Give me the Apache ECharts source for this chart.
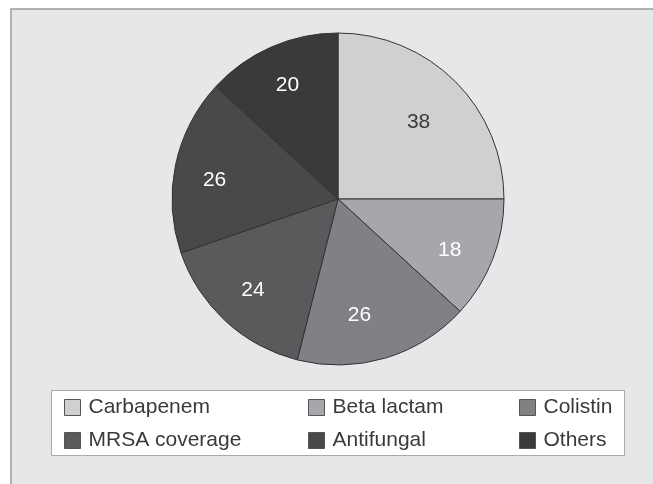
<!DOCTYPE html>
<html>
<head>
<meta charset="utf-8">
<script src="https://cdn.jsdelivr.net/npm/echarts@6/dist/echarts.min.js"></script>
<style>
  html, body { margin: 0; padding: 0; background: #ffffff; }
  #chart { width: 653px; height: 484px; }
</style>
</head>
<body>
<div id="chart"></div>
<script>
// Antibiotic coverage categories and counts
const categories = ['Carbapenem', 'Beta lactam', 'Colistin', 'MRSA coverage', 'Antifungal', 'Others'];
const values = [38, 18, 26, 24, 26, 20];
const sliceColors = ['#cfd0d2', '#a6a7aa', '#808184', '#5a5a5c', '#48494b', '#3a3a3a'];
const labelColors = ['#3a3a3a', '#ffffff', '#ffffff', '#ffffff', '#ffffff', '#ffffff'];
// small per-label nudges (px) away from the mid-angle position
const labelNudges = [[-5, 9], [-1, 7], [-13, 0], [-3, 2], [-5, 6], [-2, -3]];

// legend columns (two rows each)
const legendColumns = [
  ['Carbapenem', 'MRSA coverage'],
  ['Beta lactam', 'Antifungal'],
  ['Colistin', 'Others']
];
const legendLefts = [64, 308, 519];

const FONT = '"Liberation Sans", Arial, sans-serif';
const CENTER = [338, 199];
const R = 166;

const colorOf = name => sliceColors[categories.indexOf(name)];

const sliceData = categories.map((name, i) => ({
  name: name,
  value: values[i],
  itemStyle: { color: sliceColors[i] }
}));

const labelData = categories.map((name, i) => ({
  name: name,
  value: values[i],
  label: { color: labelColors[i], offset: labelNudges[i] }
}));

const legends = legendColumns.map((col, k) => ({
  orient: 'vertical',
  left: legendLefts[k],
  top: 397,
  padding: 0,
  itemGap: 12,
  itemWidth: 16,
  itemHeight: 16,
  icon: 'rect',
  selectedMode: false,
  textStyle: {
    fontFamily: FONT,
    fontSize: 21,
    lineHeight: 21,
    color: '#3a3a3a',
    padding: [0, 0, 0, 3]
  },
  data: col.map(name => ({
    name: name,
    itemStyle: { color: colorOf(name), borderColor: '#555557', borderWidth: 1 }
  }))
}));

const chart = echarts.init(document.getElementById('chart'), null, { renderer: 'canvas' });
chart.setOption({
  animation: false,
  backgroundColor: '#ffffff',
  graphic: [
    {
      type: 'rect',
      z: -10,
      shape: { x: 11, y: 9, width: 700, height: 600 },
      style: { fill: '#e6e7e9', stroke: '#9c9c9e', lineWidth: 1.5 }
    },
    {
      type: 'rect',
      z: -5,
      shape: { x: 51.5, y: 390.5, width: 573, height: 65 },
      style: { fill: '#ffffff', stroke: '#a9a9ab', lineWidth: 1 }
    }
  ],
  legend: legends,
  series: [
    {
      type: 'pie',
      center: CENTER,
      radius: [0, R],
      startAngle: 90,
      clockwise: true,
      silent: true,
      label: { show: false },
      labelLine: { show: false },
      itemStyle: { borderColor: '#333335', borderWidth: 1 },
      data: sliceData
    },
    {
      // transparent ring used only to place the value labels
      type: 'pie',
      center: CENTER,
      radius: [70, R],
      startAngle: 90,
      clockwise: true,
      silent: true,
      itemStyle: { color: 'rgba(0,0,0,0)', borderWidth: 0 },
      labelLine: { show: false },
      label: {
        show: true,
        position: 'inside',
        formatter: '{c}',
        fontFamily: FONT,
        fontSize: 21
      },
      data: labelData
    }
  ]
});
</script>
</body>
</html>
